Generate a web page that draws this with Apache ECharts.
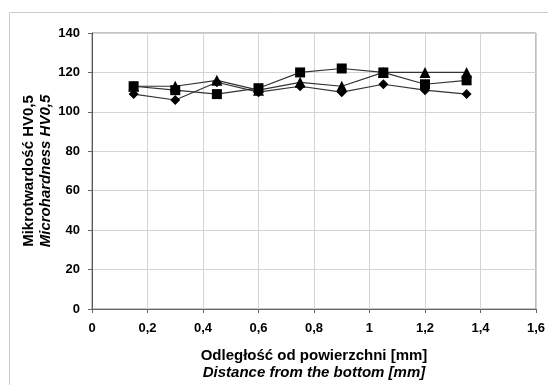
<!DOCTYPE html>
<html><head><meta charset="utf-8">
<script src="https://cdn.jsdelivr.net/npm/echarts@6/dist/echarts.min.js"></script>
<style>html,body{margin:0;padding:0;background:#fff}#c{width:548px;height:385px}</style>
</head><body><div id="c"></div>
<script>
const xValues = [0.15, 0.3, 0.45, 0.6, 0.75, 0.9, 1.05, 1.2, 1.35];
const seriesDiamond = [109, 106, 115, 110, 113, 110, 114, 111, 109];
const seriesSquare = [113, 111, 109, 112, 120, 122, 120, 114, 116];
const seriesTriangle = [113, 113, 116, 111, 115, 113, 120, 120, 120];
const yTitle1 = 'Mikrotwardość HV0,5';
const yTitle2 = 'Microhardness HV0,5';
const xTitle1 = 'Odległość od powierzchni [mm]';
const xTitle2 = 'Distance from the bottom [mm]';

const font = 'Liberation Sans, Arial, sans-serif';
function mk(vals, symbol, size) {
  return {
    type: 'line', data: xValues.map((x, i) => [x, vals[i]]),
    symbol: symbol, symbolSize: size, showSymbol: true,
    lineStyle: { color: '#333', width: 1.2 },
    itemStyle: { color: '#000' }, animation: false
  };
}
const rich = {
  a: { fontFamily: font, fontWeight: 'bold', fontSize: 15, color: '#000', lineHeight: 17 },
  b: { fontFamily: font, fontWeight: 'bold', fontStyle: 'italic', fontSize: 15, color: '#000', lineHeight: 17 }
};
const chart = echarts.init(document.getElementById('c'));
chart.setOption({
  animation: false,
  grid: { left: 92, right: 9, top: 33, bottom: 74, containLabel: false, show: true, borderColor: '#888', borderWidth: 1 },
  xAxis: {
    type: 'value', min: 0, max: 1.6, interval: 0.2,
    axisLine: { show: true, lineStyle: { color: '#666', width: 1 } },
    axisTick: { show: true, length: 4, lineStyle: { color: '#666' } },
    splitLine: { show: true, lineStyle: { color: '#d4d4d4' } },
    axisLabel: { margin: 13, fontFamily: font, fontWeight: 'bold', fontSize: 13, color: '#000',
      formatter: v => String(Math.round(v * 10) / 10).replace('.', ',') },
    name: '{a|' + xTitle1 + '}\n{b|' + xTitle2 + '}',
    nameLocation: 'middle', nameGap: 38, nameMoveOverlap: false,
    nameTextStyle: { rich: rich }
  },
  yAxis: {
    type: 'value', min: 0, max: 140, interval: 20,
    axisLine: { show: true, lineStyle: { color: '#555', width: 1 } },
    axisTick: { show: true, length: 4, lineStyle: { color: '#666' } },
    splitLine: { show: true, lineStyle: { color: '#d4d4d4' } },
    axisLabel: { margin: 12, fontFamily: font, fontWeight: 'bold', fontSize: 13, color: '#000' },
    name: '{a|' + yTitle1 + '}\n{b|' + yTitle2 + '}',
    nameLocation: 'middle', nameGap: 38, nameMoveOverlap: false,
    nameTextStyle: { rich: rich }
  },
  graphic: [
    { type: 'line', shape: { x1: 9.5, y1: 12.5, x2: 548, y2: 12.5 }, style: { stroke: '#ccc', lineWidth: 1 } },
    { type: 'line', shape: { x1: 9.5, y1: 12.5, x2: 9.5, y2: 385 }, style: { stroke: '#ccc', lineWidth: 1 } }
  ],
  series: [
    mk(seriesTriangle, 'triangle', 11),
    mk(seriesDiamond, 'diamond', 10),
    mk(seriesSquare, 'rect', 10)
  ]
});
</script></body></html>
